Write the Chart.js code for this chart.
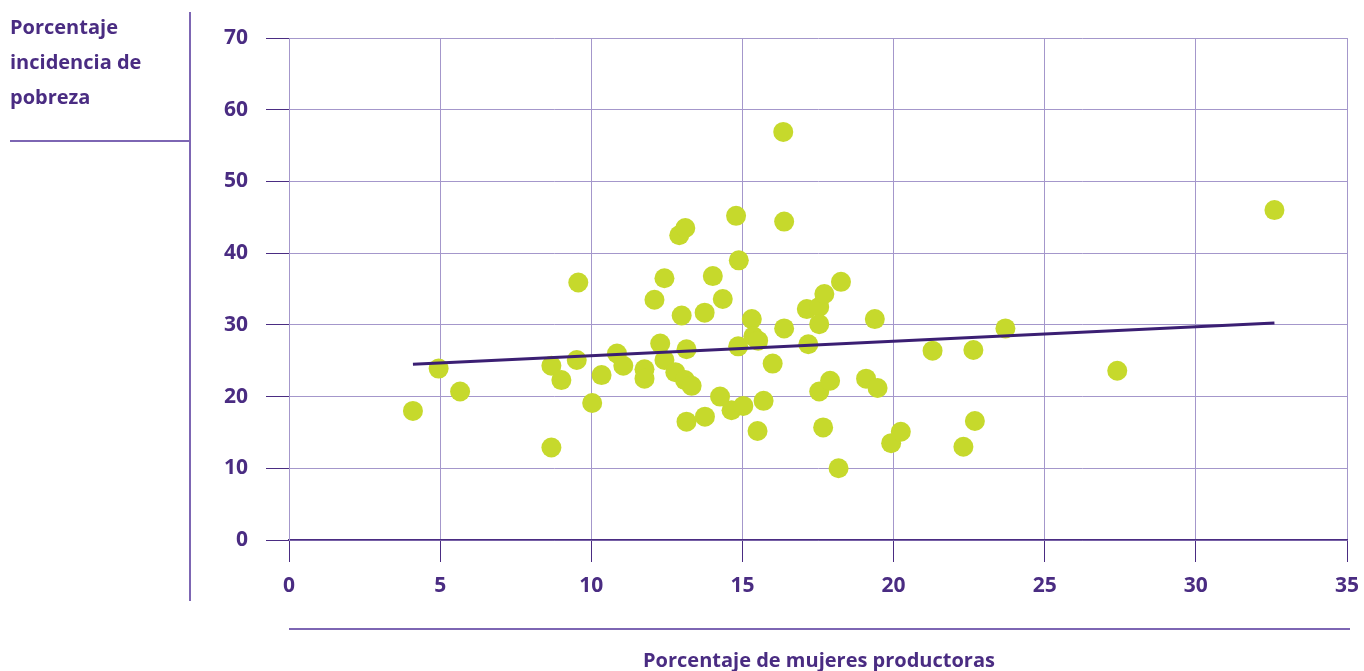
<!DOCTYPE html>
<html lang="es">
<head>
<meta charset="utf-8">
<title>Pobreza vs mujeres productoras</title>
<script src="https://cdn.jsdelivr.net/npm/chart.js@4.4.1/dist/chart.umd.min.js"></script>
<style>
    html, body { margin: 0; padding: 0; background: #fff; }
    body { width: 1364px; height: 671px; position: relative; overflow: hidden; font-family: "Open Sans", sans-serif; }
    #wrap { position: absolute; left: 0; top: 0; width: 1364px; height: 671px; }
    .title { position: absolute; color: #4a2c82; font-weight: 700; font-size: 20px; }
    .y-title { left: 10px; top: 9px; line-height: 35px; }
    .x-title { left: 289px; width: 1060px; top: 646px; text-align: center; line-height: 28px; }
    .rule { position: absolute; background: #7d66b3; }
</style>
</head>
<body>
<div id="wrap"><canvas id="chart"></canvas></div>
<div class="title y-title">Porcentaje<br>incidencia de<br>pobreza</div>
<div class="rule" style="left:189px; top:12px; width:2px; height:589px;"></div>
<div class="rule" style="left:10px; top:140px; width:180px; height:2px;"></div>
<div class="rule" style="left:289px; top:628px; width:1061px; height:2px;"></div>
<div class="title x-title">Porcentaje de mujeres productoras</div>

<script>
// Datos
const mujeresPct = [
    4.1, 4.95, 5.66, 8.68, 8.68, 9.01, 9.52, 9.57, 10.03, 10.34,
    10.85, 11.06, 11.76, 11.76, 12.09, 12.28, 12.42, 12.42, 12.78, 12.91,
    12.99, 13.1, 13.11, 13.15, 13.15, 13.32, 13.75, 13.76, 14.02, 14.26,
    14.35, 14.64, 14.79, 14.86, 14.88, 15.03, 15.31, 15.36, 15.52, 15.5,
    15.7, 16.0, 16.35, 16.38, 16.38, 17.13, 17.18, 17.54, 17.54, 17.54,
    17.67, 17.71, 17.9, 18.18, 18.26, 19.09, 19.38, 19.47, 19.92, 20.24,
    21.29, 22.31, 22.64, 22.69, 23.7, 27.4, 32.6
];
const pobrezaPct = [
    18.0, 23.9, 20.7, 24.3, 12.9, 22.3, 25.1, 35.9, 19.1, 23.0,
    26.0, 24.3, 23.8, 22.5, 33.5, 27.4, 36.5, 25.1, 23.4, 42.5,
    31.3, 22.3, 43.5, 26.6, 16.5, 21.5, 31.7, 17.2, 36.8, 20.0,
    33.6, 18.1, 45.2, 27.0, 39.0, 18.7, 30.8, 28.4, 27.8, 15.2,
    19.4, 24.6, 56.9, 44.4, 29.5, 32.2, 27.3, 32.5, 30.1, 20.7,
    15.7, 34.3, 22.2, 10.0, 36.0, 22.5, 30.8, 21.2, 13.5, 15.1,
    26.4, 13.0, 26.5, 16.6, 29.5, 23.6, 46.0
];
// Línea de tendencia (extremos)
const trendX = [4.1, 32.6];
const trendY = [24.5, 30.25];

const xTicks = [0, 5, 10, 15, 20, 25, 30, 35];
const yTicks = [0, 10, 20, 30, 40, 50, 60, 70];

const purple = '#4a2c82';
const gridColor = '#a497cb';

const points = mujeresPct.map((x, i) => ({ x: x, y: pobrezaPct[i] }));
const trend = trendX.map((x, i) => ({ x: x, y: trendY[i] }));

new Chart(document.getElementById('chart'), {
    type: 'scatter',
    data: {
        datasets: [
            {
                type: 'line',
                label: 'Tendencia',
                data: trend,
                borderColor: '#3b1f73',
                borderWidth: 3,
                pointRadius: 0,
                fill: false,
                order: 0
            },
            {
                label: 'Departamentos',
                data: points,
                backgroundColor: '#c6d92c',
                borderWidth: 0,
                pointRadius: 10,
                pointHoverRadius: 10,
                order: 1
            }
        ]
    },
    options: {
        responsive: true,
        maintainAspectRatio: false,
        animation: false,
        events: [],
        layout: { padding: { top: 38, right: 17, left: 0, bottom: 0 } },
        plugins: {
            legend: { display: false },
            tooltip: { enabled: false }
        },
        scales: {
            x: {
                type: 'linear',
                min: xTicks[0],
                max: xTicks[xTicks.length - 1],
                afterBuildTicks: s => { s.ticks = xTicks.map(v => ({ value: v })); },
                afterFit: s => { s.height = 131; s.paddingLeft = 0; s.paddingRight = 0; },
                grid: { color: gridColor, tickColor: purple, tickLength: 22, lineWidth: 1 },
                border: { color: purple, width: 1.5 },
                ticks: {
                    color: purple,
                    padding: 11,
                    font: { family: 'Open Sans', size: 21, weight: 'bold' }
                }
            },
            y: {
                type: 'linear',
                min: yTicks[0],
                max: yTicks[yTicks.length - 1],
                afterBuildTicks: s => { s.ticks = yTicks.map(v => ({ value: v })); },
                afterFit: s => { s.width = 289; s.paddingTop = 0; s.paddingBottom = 0; },
                grid: { color: gridColor, tickColor: purple, tickLength: 23, lineWidth: 1 },
                border: { color: gridColor, width: 1 },
                ticks: {
                    color: purple,
                    padding: 18,
                    font: { family: 'Open Sans', size: 21, weight: 'bold' }
                }
            }
        }
    }
});
</script>
</body>
</html>
